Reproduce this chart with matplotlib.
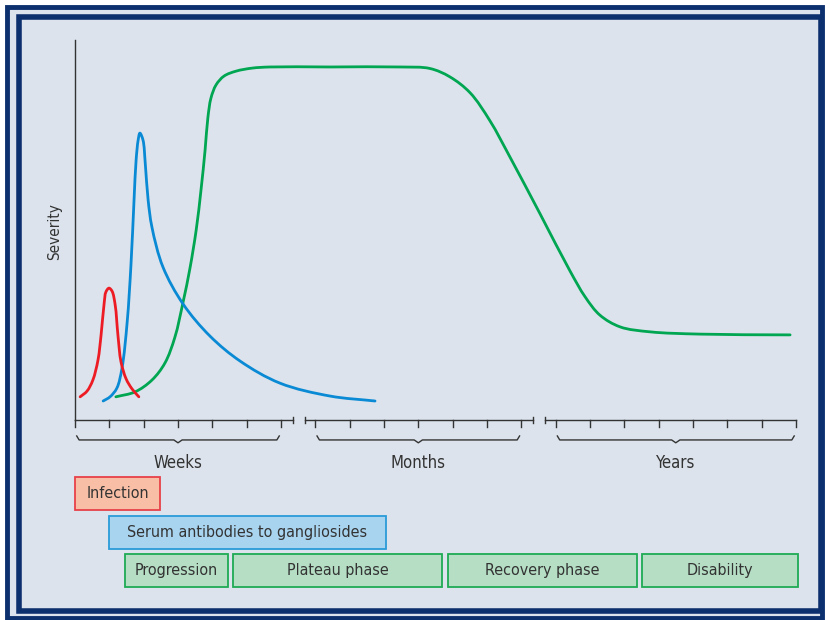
import matplotlib
matplotlib.use("Agg")
import numpy as np
import matplotlib.pyplot as plt
from matplotlib.patches import Rectangle, PathPatch
from matplotlib.path import Path

plt.rcParams['font.family'] = ['DejaVu Sans']
plt.rcParams['font.stretch'] = 'condensed'

# x in tick units (weeks / months / years segments), y = severity 0-100
red_x = [0.15, 0.35, 0.52, 0.67, 0.76, 0.85, 0.90, 0.99, 1.08, 1.17, 1.25, 1.34, 1.49, 1.66, 1.86]
red_y = [6.1, 7.6, 10.5, 15.8, 22.4, 30.8, 33.7, 34.7, 33.9, 30.3, 22.4, 15.3, 10.8, 8.2, 6.1]

blue_x = [0.82, 1.02, 1.22, 1.37, 1.52, 1.63, 1.72, 1.78, 1.84, 1.89, 1.98, 2.05, 2.13, 2.24,
          2.56, 3.15, 3.93, 4.81, 5.97, 7.43, 8.74]
blue_y = [5.0, 6.1, 8.4, 13.7, 25.8, 40.8, 57.9, 68.4, 73.7, 75.5, 73.7, 67.1, 57.9, 50.8,
          40.3, 30.5, 22.1, 15.5, 9.7, 6.3, 5.0]

green_x = [1.19, 1.75, 2.24, 2.62, 2.91, 3.15, 3.35, 3.53, 3.67, 3.79, 3.87, 3.96, 4.11, 4.34, 4.69,
           5.16, 5.68, 7.43, 9.47, 10.34, 10.92, 11.51, 12.09, 12.67, 13.55, 14.42, 14.86, 15.29,
           15.88, 16.75, 18.21, 20.83]
green_y = [6.1, 7.4, 10.5, 15.0, 21.8, 31.1, 40.0, 50.0, 60.5, 71.1, 79.5, 84.7, 88.2, 90.5, 91.8,
           92.6, 92.9, 92.9, 92.9, 92.5, 90.3, 86.1, 78.7, 69.2, 54.2, 39.2, 32.4, 27.6,
           24.5, 23.2, 22.6, 22.4]

segments = [(0, 6), (7, 13), (14, 21)]
segment_labels = ['Weeks', 'Months', 'Years']

box_labels = ['Infection', 'Serum antibodies to gangliosides', 'Progression', 'Plateau phase',
              'Recovery phase', 'Disability']
box_start = [0.0, 0.99, 1.46, 4.60, 10.87, 16.52]
box_end = [2.48, 9.06, 4.46, 10.69, 16.37, 21.06]
box_row = [0, 1, 2, 2, 2, 2]

navy = '#0c2f6e'
bg = '#dce3ec'
ink = '#333333'
SX, SY = 34.33, 3.8  # pixels per data unit


def smooth_path(xs, ys):
    # centripetal Catmull-Rom through the points, drawn as Bezier segments
    P = np.column_stack([np.asarray(xs, float) * SX, np.asarray(ys, float) * SY])
    P = np.vstack([2 * P[0] - P[1], P, 2 * P[-1] - P[-2]])
    verts = [tuple(P[1])]
    codes = [Path.MOVETO]
    for k in range(1, len(P) - 2):
        p0, p1, p2, p3 = P[k - 1], P[k], P[k + 1], P[k + 2]
        t01 = np.linalg.norm(p1 - p0) ** 0.5
        t12 = np.linalg.norm(p2 - p1) ** 0.5
        t23 = np.linalg.norm(p3 - p2) ** 0.5
        m1 = ((p1 - p0) / t01 - (p2 - p0) / (t01 + t12) + (p2 - p1) / t12) * t12
        m2 = ((p2 - p1) / t12 - (p3 - p1) / (t12 + t23) + (p3 - p2) / t23) * t12
        verts += [tuple(p1 + m1 / 3), tuple(p2 - m2 / 3), tuple(p2)]
        codes += [Path.CURVE4] * 3
    verts = np.array(verts) / np.array([SX, SY])
    return Path(verts, codes)


fig = plt.figure(figsize=(8.3, 6.2), dpi=100)
fig.patch.set_facecolor('white')


def fx(px):
    return px / 830.0


def fy(py):
    return 1 - py / 620.0


# frame
fig.patches.append(Rectangle((fx(7), fy(618)), fx(822) - fx(7), fy(7) - fy(618), transform=fig.transFigure,
                             facecolor=bg, edgecolor=navy, linewidth=3.5, zorder=-10))
fig.patches.append(Rectangle((fx(18.5), fy(610.5)), fx(821) - fx(18.5), fy(16.5) - fy(610.5),
                             transform=fig.transFigure, facecolor=bg, edgecolor=navy, linewidth=4, zorder=-9))

ax = fig.add_axes([0, 0, 1, 1])
ax.set_facecolor('none')
ax.set_xlim((0 - 75) / SX, (830 - 75) / SX)
ax.set_ylim((420 - 620) / SY, 420 / SY)
ax.axis('off')

# curves
for xs, ys, col, z in [(green_x, green_y, '#00a651', 3), (blue_x, blue_y, '#0a8ad4', 4),
                       (red_x, red_y, '#ed1c24', 5)]:
    ax.add_patch(PathPatch(smooth_path(xs, ys), fill=False, edgecolor=col, lw=2.0,
                           capstyle='round', joinstyle='round', zorder=z))

# y axis
ax.plot([0, 0], [0, 100], color=ink, lw=1.0)
ax.text(-0.58, 49.5, 'Severity', rotation=90, ha='center', va='center', fontsize=11, color=ink)

# broken x axis
tick_len = 1.85
for i, (a, b) in enumerate(segments):
    left = a if i == 0 else a - 0.31
    right = b + 0.34 if i < len(segments) - 1 else b
    ax.plot([left, right], [0, 0], color=ink, lw=1.0)
    if i > 0:
        ax.plot([left, left], [-0.9, 0.9], color=ink, lw=1.0)
    if i < len(segments) - 1:
        ax.plot([right, right], [-0.9, 0.9], color=ink, lw=1.0)
    for t in range(a, b + 1):
        ax.plot([t, t], [0, -tick_len], color=ink, lw=1.0)
    # brace
    mid = (a + b) / 2
    bx = [a + 0.05, a + 0.12, mid - 0.12, mid, mid + 0.12, b - 0.12, b - 0.05]
    by = [-4.2, -5.25, -5.25, -6.0, -5.25, -5.25, -4.2]
    ax.plot(bx, by, color=ink, lw=1.0, solid_joinstyle='round')
    ax.text(mid, -11.3, segment_labels[i], ha='center', va='center', fontsize=12, color=ink)

# phase boxes
row_top = [-15.0, -25.3, -35.3]
row_h = 8.7
styles = [('#f8bfa6', '#e8414a'), ('#a9d4f0', '#2a9bd8'), ('#b5dec4', '#1eaa55')]
for lab, s, e, r in zip(box_labels, box_start, box_end, box_row):
    fc, ec = styles[r]
    ax.add_patch(Rectangle((s, row_top[r] - row_h), e - s, row_h, facecolor=fc, edgecolor=ec, lw=1.3))
    ax.text((s + e) / 2, row_top[r] - row_h / 2, lab, ha='center', va='center', fontsize=11.5, color=ink)

fig.savefig('out.png', dpi=100, facecolor=fig.get_facecolor())
